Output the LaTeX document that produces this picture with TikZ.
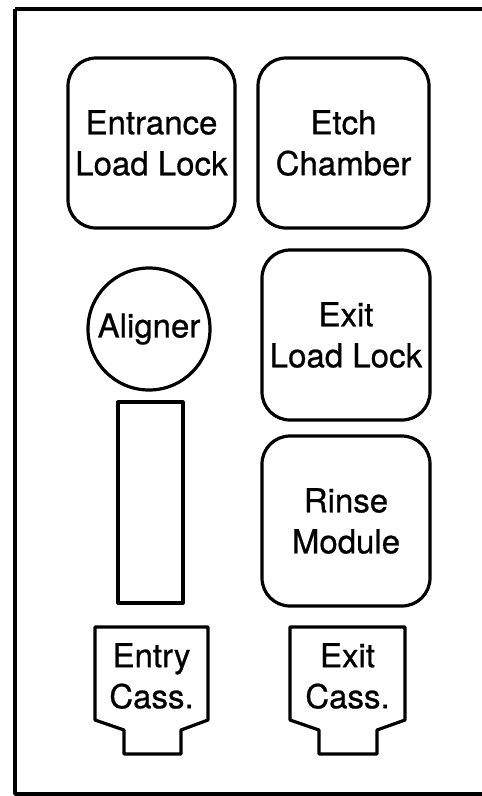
\documentclass[tikz,border=0pt]{standalone}
\usepackage{fontspec}
\setmainfont{TeX Gyre Heros}
\newfontfamily\lblfont[FakeBold=0.7]{TeX Gyre Heros}
\begin{document}
\begin{tikzpicture}[x=1pt,y=-1pt,
  line join=round,
  lbl/.style={align=center,font=\lblfont\fontsize{33}{41}\selectfont,inner sep=0pt},
  chamber/.style={draw,line width=3.2pt,rounded corners=28pt,inner sep=0pt},
  outline/.style={draw,line width=3.2pt}]
\useasboundingbox (0,0) rectangle (482,796);
\begin{scope}
\clip (0,0) rectangle (482,796);
\draw[line width=3.4pt] (15,9) -- (495,9) (15,9) -- (15,794) -- (495,794);
\end{scope}
% chambers
\node[chamber,minimum width=167pt,minimum height=170pt] (ell) at (151.5,143) {};
\node[lbl] at (ell) {Entrance\\Load Lock};
\node[chamber,minimum width=171pt,minimum height=170pt] (etch) at (343.5,143) {};
\node[lbl] at (etch) {Etch\\Chamber};
\node[draw,circle,line width=3.2pt,minimum size=122pt,inner sep=0pt] (al) at (149,329) {};
\node[lbl] at (al) {Aligner};
\node[chamber,minimum width=168pt,minimum height=170pt] (xll) at (346,335) {};
\node[lbl] at (xll) {Exit\\Load Lock};
\node[chamber,minimum width=168pt,minimum height=170pt] (rinse) at (346,521) {};
\node[lbl] at (rinse) {Rinse\\Module};
\node[outline,minimum width=65pt,minimum height=201pt,inner sep=0pt] (bar) at (150.5,502.5) {};
% cassettes
\draw[outline] (95,627) -- (95,720) -- (124,730) -- (124,754) -- (181,754) -- (181,730) -- (208,720) -- (208,627) -- cycle;
\node[lbl] (entry) at (151.5,676) {Entry\\Cass.};
\draw[outline] (290,627) -- (290,720) -- (319,730) -- (319,754) -- (377,754) -- (377,730) -- (405,720) -- (405,627) -- cycle;
\node[lbl] (exitc) at (347.5,676) {Exit\\Cass.};
\end{tikzpicture}
\end{document}
